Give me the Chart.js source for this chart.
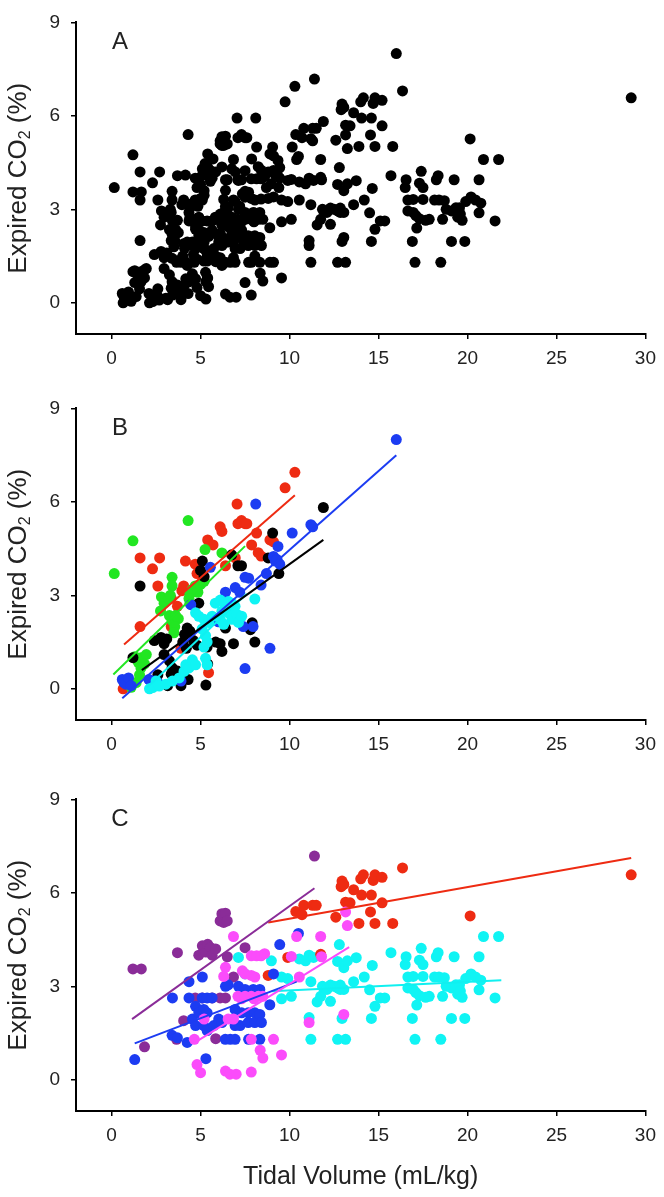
<!DOCTYPE html>
<html>
<head>
<meta charset="utf-8">
<script src="https://cdn.jsdelivr.net/npm/chart.js@4.4.0/dist/chart.umd.min.js"></script>
<style>
  html, body { margin:0; padding:0; background:#fff; }
  body { width:664px; height:1197px; position:relative; overflow:hidden; }
  canvas { position:absolute; left:0; }
</style>
</head>
<body>
<canvas id="chartA" width="664" height="386" style="top:0px"></canvas>
<canvas id="chartB" width="664" height="386" style="top:386px"></canvas>
<canvas id="chartC" width="664" height="420" style="top:777px"></canvas>
<script>
// ticks
const xTicks = [0, 5, 10, 15, 20, 25, 30]
const yTicks = [0, 3, 6, 9]

// panel B groups  [tidal volume, expired CO2]
const bRed = [[0.65,0.0],[1.6,2.0],[1.6,4.2],[2.3,3.85],[2.6,3.3],[2.7,4.2],[3.35,2.9],[3.35,2.0],[3.7,2.65],[3.9,1.3],[3.95,3.15],[4.05,3.3],[4.15,4.1],[4.7,4.0],[4.8,3.7],[5.45,0.52],[5.4,4.78],[5.7,4.62],[6.1,5.2],[6.2,5.05],[6.4,3.95],[6.95,4.2],[7.05,5.93],[7.1,5.3],[7.3,5.4],[7.5,5.3],[7.6,5.3],[7.87,4.62],[8.15,5.0],[8.24,4.37],[8.4,4.26],[8.9,4.78],[9.1,4.72],[9.75,6.45],[10.3,6.95]]
const bGreen = [[0.15,3.7],[1.2,4.75],[4.3,5.4],[5.25,4.47],[6.2,4.36],[3.4,3.58],[3.4,3.3],[2.8,2.95],[2.95,2.75],[3.2,2.9],[3.3,3.0],[4.4,3.05],[4.55,3.2],[4.7,3.3],[4.85,3.1],[5.0,3.35],[5.2,3.45],[4.35,2.9],[4.4,2.75],[3.25,2.35],[3.4,2.2],[3.6,2.35],[3.75,2.25],[3.55,2.0],[3.5,1.8],[2.75,2.5],[1.3,1.03],[1.5,0.85],[1.65,1.0],[1.95,1.1],[1.85,0.8],[1.65,0.67],[1.57,0.45],[1.38,0.2],[1.1,0.05]]
const bBlack = [[1.6,3.3],[1.2,1.0],[2.4,1.55],[2.78,1.65],[2.95,1.45],[3.1,1.6],[2.95,1.1],[3.25,0.9],[3.4,0.68],[3.35,0.47],[3.7,0.57],[2.6,0.45],[3.15,0.1],[3.9,0.1],[4.0,1.5],[4.1,1.75],[4.2,1.3],[4.25,1.95],[4.4,1.85],[4.3,0.3],[4.6,1.55],[4.8,1.4],[4.9,2.75],[5.0,3.8],[5.1,4.1],[5.2,3.6],[5.3,0.12],[5.4,0.8],[5.37,1.34],[5.85,1.5],[6.1,1.45],[6.2,1.2],[6.4,1.95],[6.75,4.3],[6.85,1.45],[7.1,3.95],[7.3,3.95],[7.8,1.9],[7.9,2.12],[8.05,1.5],[8.8,4.2],[9.05,5.0],[9.4,3.7],[11.9,5.82]]
const bBlue = [[0.6,0.3],[0.7,0.2],[0.8,0.15],[0.95,0.35],[1.1,0.1],[2.1,0.3],[2.4,0.25],[2.6,0.2],[3.9,0.25],[4.45,2.7],[5.55,3.9],[6.0,2.15],[6.4,3.1],[6.95,3.25],[7.2,3.1],[7.4,2.0],[7.5,3.58],[7.5,0.65],[7.7,3.55],[7.95,2.0],[8.1,5.93],[8.4,3.33],[8.7,3.7],[8.9,1.3],[9.1,4.25],[9.2,4.1],[9.3,4.15],[9.35,4.57],[9.45,4.0],[10.15,5.0],[11.2,5.27],[11.3,5.2],[16.0,8.0]]
const bCyan = [[2.13,0.0],[2.31,0.04],[2.5,0.25],[2.68,0.09],[3.05,0.15],[3.42,0.25],[3.8,0.35],[4.07,0.56],[4.17,0.77],[4.35,0.67],[4.54,0.93],[4.72,0.77],[5.28,0.98],[5.37,0.77],[5.19,1.34],[5.37,1.5],[5.28,1.71],[5.09,1.92],[4.72,2.44],[4.9,2.33],[5.19,2.23],[5.46,2.13],[5.65,2.33],[5.83,2.75],[6.11,2.85],[6.11,2.23],[6.2,2.49],[6.3,2.07],[6.39,2.7],[6.57,2.8],[6.57,2.44],[6.76,2.75],[6.76,2.23],[6.94,2.65],[7.04,2.39],[7.13,2.13],[7.31,2.33],[8.05,2.88]]

// panel B fitted lines (end points)
const bRedFit = [[0.7,1.42],[10.3,6.21]]
const bGreenFit = [[0.1,0.46],[7.5,4.58]]
const bBlackFit = [[1.7,0.6],[11.9,4.78]]
const bBlueFit = [[0.6,-0.3],[16.0,7.5]]
const bCyanFit = [[2.0,0.05],[7.6,3.05]]

// panel C groups
const cPurple = [[1.2,3.56],[1.67,3.56],[1.85,1.06],[3.65,1.3],[3.7,4.08],[4.05,1.9],[4.7,2.63],[4.9,4.0],[5.1,4.3],[5.1,2.63],[5.2,4.2],[5.3,4.1],[5.4,4.35],[5.55,4.25],[5.65,4.0],[5.65,2.63],[5.85,4.2],[5.85,1.32],[6.1,5.1],[6.1,2.63],[6.2,5.33],[6.3,5.05],[6.4,5.35],[6.4,2.63],[6.5,5.1],[6.5,3.95],[6.85,3.3],[7.5,4.24],[11.4,7.18]]
const cRed = [[8.8,3.35],[9.9,3.93],[10.35,5.4],[10.7,5.3],[10.8,5.6],[11.3,5.6],[11.5,5.6],[11.75,4.03],[12.6,5.22],[12.9,6.2],[12.95,6.38],[13.05,6.27],[13.15,5.7],[13.4,5.68],[13.6,6.1],[13.9,5.02],[14.0,6.45],[14.05,5.93],[14.15,6.58],[14.55,5.39],[14.6,5.93],[14.7,6.4],[14.8,6.58],[14.8,5.02],[15.2,6.5],[15.2,5.68],[15.8,5.02],[16.35,6.8],[20.15,5.26],[29.2,6.58]]
const cMagenta = [[4.65,1.3],[4.8,0.49],[5.0,0.23],[5.2,1.95],[6.3,3.32],[6.4,3.61],[6.4,0.28],[6.55,1.95],[6.65,0.18],[6.85,4.6],[6.85,1.95],[7.0,0.18],[7.1,2.68],[7.3,2.6],[7.35,3.5],[7.5,3.4],[7.5,2.68],[7.85,3.98],[7.85,3.35],[7.85,2.68],[7.85,1.3],[7.85,0.25],[8.0,2.6],[8.05,3.3],[8.15,3.98],[8.25,2.68],[8.35,0.95],[8.4,3.98],[8.5,2.68],[8.5,0.7],[8.6,4.05],[9.1,1.3],[9.55,0.8],[10.1,3.96],[10.4,4.6],[10.55,3.3],[11.1,1.84],[11.75,4.6],[11.8,3.95],[13.05,2.1],[13.15,5.39],[13.25,4.95]]
const cBlue = [[1.3,0.65],[3.4,1.43],[3.42,2.63],[3.7,1.35],[4.25,1.2],[4.35,3.15],[4.35,2.63],[4.54,1.95],[4.72,2.36],[4.72,1.74],[4.9,2.15],[5.09,2.63],[5.1,3.3],[5.18,2.26],[5.18,1.74],[5.3,0.68],[5.37,2.63],[5.37,2.15],[5.37,1.58],[5.65,2.63],[5.74,1.74],[6.02,1.95],[6.2,1.84],[6.39,1.3],[6.4,3.0],[6.55,3.05],[6.67,1.3],[6.94,2.26],[6.94,1.74],[6.94,1.3],[7.13,3.0],[7.22,1.74],[7.31,2.15],[7.5,2.9],[7.68,2.15],[7.68,1.84],[7.7,1.3],[7.96,2.9],[8.05,2.15],[8.05,1.84],[8.33,2.9],[8.33,2.1],[8.33,1.3],[8.42,1.84],[8.89,2.41],[9.1,3.4],[9.45,4.34],[10.5,4.7]]
const cCyan = [[7.13,3.93],[7.5,3.4],[8.98,3.82],[9.55,3.3],[9.9,3.25],[9.55,2.6],[10.1,2.68],[10.55,3.88],[10.9,3.82],[11.1,4.0],[11.35,3.93],[11.2,3.15],[11.1,2.0],[11.2,1.3],[11.55,2.5],[11.75,2.68],[11.85,3.0],[12.1,2.9],[12.3,3.04],[12.3,2.52],[12.5,3.0],[12.7,3.8],[12.7,2.95],[12.7,1.3],[12.8,4.34],[12.85,3.04],[12.85,2.9],[12.95,1.97],[13.05,3.6],[13.05,2.9],[13.15,1.3],[13.25,3.82],[13.6,3.15],[13.75,3.92],[14.2,3.3],[14.5,2.89],[14.6,1.97],[14.65,3.67],[14.8,2.36],[15.1,2.63],[15.35,2.63],[15.7,4.08],[16.5,3.7],[16.55,3.95],[16.65,3.3],[16.65,2.95],[16.9,1.97],[16.95,3.32],[16.95,2.9],[17.05,1.3],[17.1,2.8],[17.15,2.4],[17.3,3.84],[17.3,2.7],[17.4,4.22],[17.5,3.7],[17.5,3.32],[17.65,2.65],[17.85,2.68],[18.15,3.3],[18.25,3.95],[18.35,4.08],[18.4,3.3],[18.5,1.3],[18.6,2.68],[18.7,3.28],[18.8,3.0],[19.1,2.95],[19.1,1.97],[19.25,3.95],[19.35,3.05],[19.45,2.75],[19.55,3.05],[19.6,2.85],[19.7,2.65],[19.85,1.97],[19.9,3.25],[20.2,3.4],[20.45,3.3],[20.65,3.95],[20.65,2.89],[20.75,3.2],[20.9,4.6],[21.55,2.63],[21.75,4.6]]

// panel C fitted lines
const cPurpleFit = [[1.15,1.95],[11.4,6.15]]
const cRedFit = [[8.8,5.05],[29.2,7.12]]
const cMagentaFit = [[4.6,1.17],[13.35,4.26]]
const cBlueFit = [[1.3,1.17],[10.4,3.15]]
const cCyanFit = [[9.0,2.84],[21.9,3.2]]

const FONT = "'Liberation Sans', Arial, sans-serif"
const TXT = '#222'

function pts(arr){
    return arr.map(p => ({x: p[0], y: p[1]}))
}

function puntos(arr, color, orden){
    return {type:'scatter', data: pts(arr), backgroundColor: color, borderColor: color,
            pointRadius: 5.5, pointBorderWidth: 0, order: orden}
}

function recta(arr, color){
    return {type:'line', data: pts(arr), borderColor: color, borderWidth: 2,
            pointRadius: 0, fill: false, order: 0}
}

// y title with subscript, and panel letter
const textos = {
    id: 'textos',
    afterDraw(chart, args, opts){
        const ctx = chart.ctx
        const a = chart.chartArea
        ctx.save()
        ctx.fillStyle = TXT
        ctx.font = '24px ' + FONT
        ctx.textAlign = 'center'
        ctx.textBaseline = 'middle'
        ctx.fillText(opts.letra, a.left + 44, a.top + 20)

        // rotated axis title
        ctx.translate(19, (a.top + a.bottom) / 2)
        ctx.rotate(-Math.PI / 2)
        ctx.textAlign = 'left'
        ctx.textBaseline = 'middle'
        const big = '26px ' + FONT, small = '16px ' + FONT
        ctx.font = big
        const w1 = ctx.measureText('Expired CO').width
        const w3 = ctx.measureText(' (%)').width
        ctx.font = small
        const w2 = ctx.measureText('2').width
        let x0 = -(w1 + w2 + w3) / 2
        ctx.font = big
        ctx.fillText('Expired CO', x0, 0)
        ctx.font = small
        ctx.fillText('2', x0 + w1, 7)
        ctx.font = big
        ctx.fillText(' (%)', x0 + w1 + w2, 0)
        ctx.restore()
    }
}

function grafico(id, datasets, letra, xH, conTitulo){
    const ctx = document.getElementById(id)
    return new Chart(ctx, {
        type: 'scatter',
        data: {datasets: datasets},
        options: {
            responsive: false,
            animation: false,
            layout: {padding: {top: 14, left: 0, right: 12, bottom: 0}},
            plugins: {legend: {display: false}, tooltip: {enabled: false}, textos: {letra: letra}},
            scales: {
                x: {
                    type: 'linear', min: -2, max: 30,
                    afterBuildTicks: s => { s.ticks = xTicks.map(v => ({value: v})) },
                    afterFit: s => { s.height = xH },
                    grid: {display: true, drawOnChartArea: false, drawTicks: true, tickLength: 5, color: '#000', lineWidth: 1.5},
                    border: {display: true, color: '#000', width: 2},
                    ticks: {font: {family: FONT, size: 19}, color: TXT, padding: 8, maxRotation: 0, autoSkip: false},
                    title: {display: conTitulo, text: 'Tidal Volume (mL/kg)', color: TXT,
                            font: {family: FONT, size: 25}, padding: {top: 0, bottom: 5}}
                },
                y: {
                    type: 'linear', min: -1, max: 9,
                    afterBuildTicks: s => { s.ticks = yTicks.map(v => ({value: v})) },
                    afterFit: s => { s.width = 76 },
                    grid: {display: true, drawOnChartArea: false, drawTicks: true, tickLength: 5, color: '#000', lineWidth: 1.5},
                    border: {display: true, color: '#000', width: 2},
                    ticks: {font: {family: FONT, size: 19}, color: TXT, padding: 11}
                }
            }
        },
        plugins: [textos]
    })
}

// panel A = every subject together
const todos = [].concat(bRed, bGreen, bBlack, bBlue, bCyan, cPurple, cRed, cMagenta, cBlue, cCyan)

grafico('chartA', [puntos(todos, '#000', 1)], 'A', 52, false)

grafico('chartB', [
    recta(bRedFit, '#ee2b12'),
    recta(bGreenFit, '#22e622'),
    recta(bBlackFit, '#000'),
    recta(bBlueFit, '#1c3cf2'),
    recta(bCyanFit, '#10f0f0'),
    puntos(bCyan, '#10f4f4', 1),
    puntos(bBlue, '#1c3cf2', 2),
    puntos(bBlack, '#000', 3),
    puntos(bGreen, '#22e622', 4),
    puntos(bRed, '#ee2b12', 5)
], 'B', 52, false)

grafico('chartC', [
    recta(cPurpleFit, '#8a2c98'),
    recta(cRedFit, '#ee2b12'),
    recta(cMagentaFit, '#fb4cfb'),
    recta(cBlueFit, '#1c3cf2'),
    recta(cCyanFit, '#10f0f0'),
    puntos(cMagenta, '#fb4cfb', 1),
    puntos(cBlue, '#1c3cf2', 2),
    puntos(cPurple, '#8a2c98', 3),
    puntos(cRed, '#ee2b12', 4),
    puntos(cCyan, '#10f4f4', 5)
], 'C', 86, true)
</script>
</body>
</html>
